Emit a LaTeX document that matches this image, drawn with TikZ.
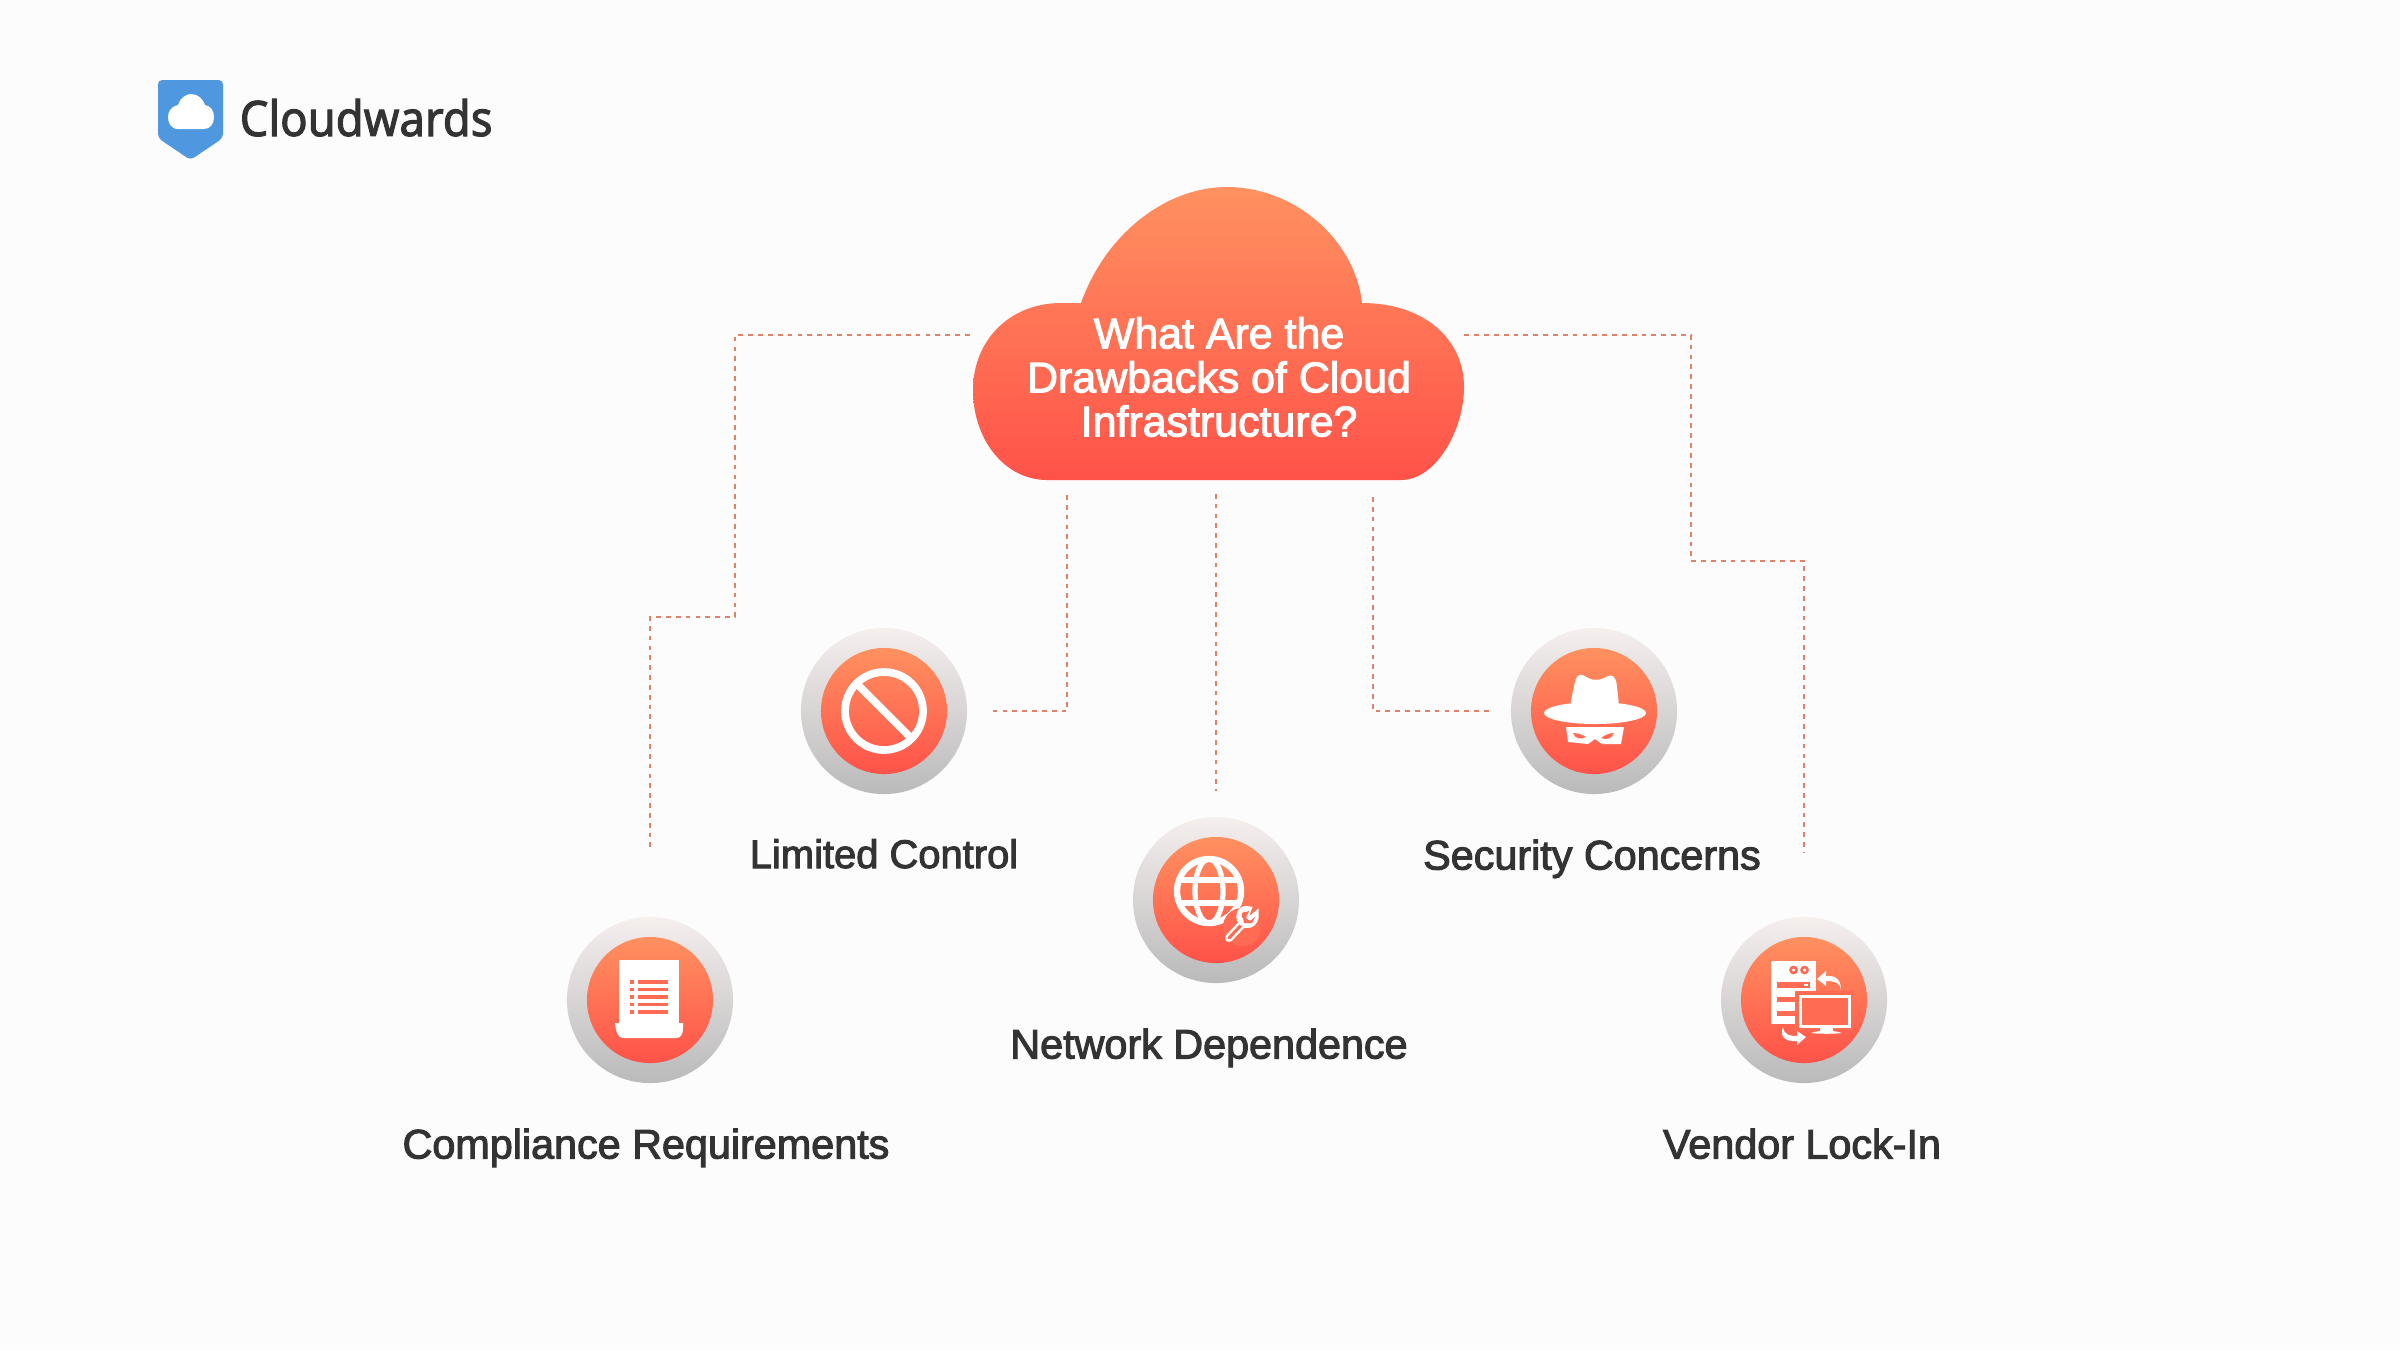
\documentclass[tikz,border=0pt]{standalone}
\usepackage{fontspec}
\setmainfont{Liberation Sans}
\newfontfamily\logofont[FakeBold=2,FakeStretch=0.93]{Noto Sans}
\newfontfamily\labelfont[FakeBold=2.5]{Liberation Sans}
\definecolor{pagebg}{HTML}{FCFCFC}
\definecolor{logoblue}{HTML}{4F98E0}
\definecolor{inktext}{HTML}{333333}
\definecolor{linkline}{HTML}{DF8268}
\definecolor{hot}{HTML}{FF5249}
\definecolor{warm}{HTML}{FF9160}
\definecolor{glyphhole}{HTML}{FF6C53}
\definecolor{rimtop}{HTML}{F5EFEE}
\definecolor{rimbottom}{HTML}{BABABA}
\tikzset{
  badge/.style={circle, minimum size=1.66cm, inner sep=0pt, top color=rimtop, bottom color=rimbottom},
  core/.style={circle, minimum size=1.26cm, inner sep=0pt, top color=warm, bottom color=hot},
  caption/.style={anchor=base, text=inktext, font=\labelfont\fontsize{11.75}{13}\selectfont},
  link/.style={draw=linkline, line width=0.65pt, dash pattern=on 1.35pt off 1.45pt},
  glyph/.style={draw=white, line width=2.2pt},
  hole/.style={fill=glyphhole, draw=none}
}
\begin{document}
\begin{tikzpicture}[x=0.01cm, y=-0.01cm]
  \useasboundingbox (0,0) rectangle (2400,1350);
  \fill[pagebg] (0,0) rectangle (2400,1350);

  \fill[logoblue, rounded corners=1.2pt] (158,80) -- (223,80) -- (223,138) -- (190.5,160) -- (158,138) -- cycle;
  \fill[white] (178,129) .. controls (171,129) and (168,123) .. (168,117) .. controls (168,111) and (172,106) .. (178,105)
    .. controls (180,98) and (186,94) .. (191,94) .. controls (198,94) and (203,99) .. (205,105)
    .. controls (211,106) and (214,111) .. (214,117) .. controls (214,124) and (210,129) .. (204,129) -- cycle;
  \node (logotext) at (239,136) [anchor=base west, inner sep=0pt, text=inktext, font=\logofont\fontsize{13.9}{16}\selectfont] {Cloudwards};

  \shade[top color=warm, bottom color=hot, middle color=warm!50!hot] (1047,480) -- (1401,480) .. controls (1436,480) and (1464,430) .. (1464,387)
    .. controls (1464,340) and (1425,303) .. (1362,303) .. controls (1355,240) and (1295,187) .. (1227,187)
    .. controls (1165,187) and (1105,235) .. (1081,303) -- (1061,303) .. controls (1010,303) and (973,340) .. (973,390)
    .. controls (973,440) and (1005,480) .. (1047,480) -- cycle;
  \node (cloud) at (1217,335) [minimum width=4.93cm, minimum height=2.9cm, inner sep=0pt] {};
  \node (title) at (1219,377) [align=center, text=white, inner sep=0pt, font=\labelfont\fontsize{12.2}{12.52}\selectfont] {What Are the\\Drawbacks of Cloud\\Infrastructure?};

  \node (limited) at (884,711) [badge] {};
  \node (security) at (1594,711) [badge] {};
  \node (network) at (1216,900) [badge] {};
  \node (compliance) at (650,1000) [badge] {};
  \node (vendor) at (1804,1000) [badge] {};
  \foreach \badgename in {limited, security, network, compliance, vendor}
    \node at (\badgename) [core] {};

  \coordinate (bendleft) at (735,617);
  \coordinate (bendright) at (1691,561);
  \coordinate (limitedtop) at (1067,495);
  \coordinate (securitytop) at (1373,497);
  \draw[link, shorten >=0.64cm] (cloud.west) -| (bendleft) -| (compliance.north);
  \draw[link, shorten >=0.64cm] (cloud.east) -| (bendright) -| (vendor.north);
  \draw[link, shorten >=0.2cm] (limitedtop) |- (limited.east);
  \draw[link, shorten >=0.2cm] (securitytop) |- (security.west);
  \draw[link, shorten <=0.13cm, shorten >=0.25cm] (network.north |- cloud.south) -- (network.north);

  \begin{scope}[shift={(limited)}]
    \draw[glyph] (0,0) circle (39);
    \draw[glyph] (-27,-27) -- (27,27);
  \end{scope}

  \begin{scope}[shift={(security)}]
    \fill[white, rounded corners=1pt] (-24,-6) -- (-18,-34) .. controls (-12,-38) and (-6,-32) .. (2,-31) .. controls (10,-32) and (16,-38) .. (22,-32) -- (25,-6) -- cycle;
    \fill[white] (1,2) ellipse (51 and 11);
    \fill[white] (-28,16) -- (30,16) -- (27,33) -- (8,33) -- (1,28) -- (-6,33) -- (-26,31) -- cycle;
    \fill[hole] (-21,22) .. controls (-16,22) and (-11,24) .. (-8,26) .. controls (-13,29) and (-19,28) .. (-21,22) -- cycle;
    \fill[hole] (20,22) .. controls (15,22) and (11,24) .. (7,27) .. controls (12,29) and (18,28) .. (20,22) -- cycle;
  \end{scope}

  \begin{scope}[shift={(network)}]
    \draw[white, line width=1.8pt] (-7,-9) circle (32);
    \draw[white, line width=1.5pt] (-7,-9) ellipse (14 and 32);
    \draw[white, line width=1.5pt] (-36,-20) -- (22,-20);
    \draw[white, line width=1.5pt] (-36,3) -- (22,3);
    \fill[glyphhole] (26,27) circle (19);
    \draw[white, line width=2.3pt, line cap=round] (13,38) -- (29,21);
    \draw[glyphhole, line width=0.9pt, line cap=round] (13,38) -- (28,22);
    \draw[white, line width=1.5pt] (24,12) .. controls (21,19) and (25,27) .. (34,25) .. controls (38,24) and (41,18) .. (40,14) -- (34,19) -- (30,17) -- (33,9) .. controls (29,8) and (26,9) .. (24,12) -- cycle;
    \fill[glyphhole] (26,13) -- (33,11) -- (30,18) -- (34,21) -- (39,17) -- (36,23) -- (28,23) -- cycle;
  \end{scope}

  \begin{scope}[shift={(compliance)}]
    \fill[white] (-31,-40) rectangle (29,24);
    \fill[white] (-35,23) -- (33,23) -- (33,28) .. controls (33,34) and (31,38) .. (26,38) -- (-27,38) .. controls (-32,38) and (-34,32) .. (-35,23) -- cycle;
    \foreach \rowy in {-18,-10.5,-3,4.5,12}
    {
      \fill[hole] (-20,\rowy-1.7) rectangle (-16,\rowy+1.7);
      \fill[hole] (-12.5,\rowy-1.7) rectangle (18,\rowy+1.7);
    }
  \end{scope}

  \begin{scope}[shift={(vendor)}]
    \fill[white] (-33,-39) rectangle (12,24);
    \foreach \ringx in {-10.5,0.5}
      \draw[glyphhole, line width=0.75pt] (\ringx,-30) circle (3);
    \fill[hole] (-27,-18.5) rectangle (6,-12.5);
    \fill[white] (0,-16.5) rectangle (3.5,-14.5);
    \fill[hole] (-27,-3.5) rectangle (-9,2);
    \fill[hole] (-27,10.5) rectangle (-9,16);
    \fill[glyphhole] (-9,-9) rectangle (49,30);
    \fill[white] (-5.5,-5.5) rectangle (47,28);
    \fill[glyphhole] (-2,-2) rectangle (43.5,24.5);
    \fill[white] (7,33) .. controls (14,30) and (30,30) .. (38,33) .. controls (30,34) and (15,34) .. (7,33) -- cycle;
    \fill[white] (16,28) rectangle (29,31);
    \fill[white] (37,-10) .. controls (36,-18) and (30,-19) .. (22,-19) -- (22,-14) -- (13,-21) -- (22,-29) -- (22,-24) .. controls (33,-25) and (37,-19) .. (37,-10) -- cycle;
    \fill[white] (-21,27) .. controls (-20,35) and (-14,36) .. (-7,36) -- (-7,31) -- (2,37) -- (-7,45) -- (-7,41) .. controls (-18,42) and (-25,37) .. (-21,27) -- cycle;
  \end{scope}

  \node (limitedtext) at (884,868) [caption, font=\labelfont\fontsize{11.35}{13}\selectfont] {Limited Control};
  \node (securitytext) at (1592,869.5) [caption] {Security Concerns};
  \node (networktext) at (1209,1058.5) [caption] {Network Dependence};
  \node (compliancetext) at (646,1158.5) [caption] {Compliance Requirements};
  \node (vendortext) at (1802,1158.5) [caption] {Vendor Lock-In};
\end{tikzpicture}
\end{document}
